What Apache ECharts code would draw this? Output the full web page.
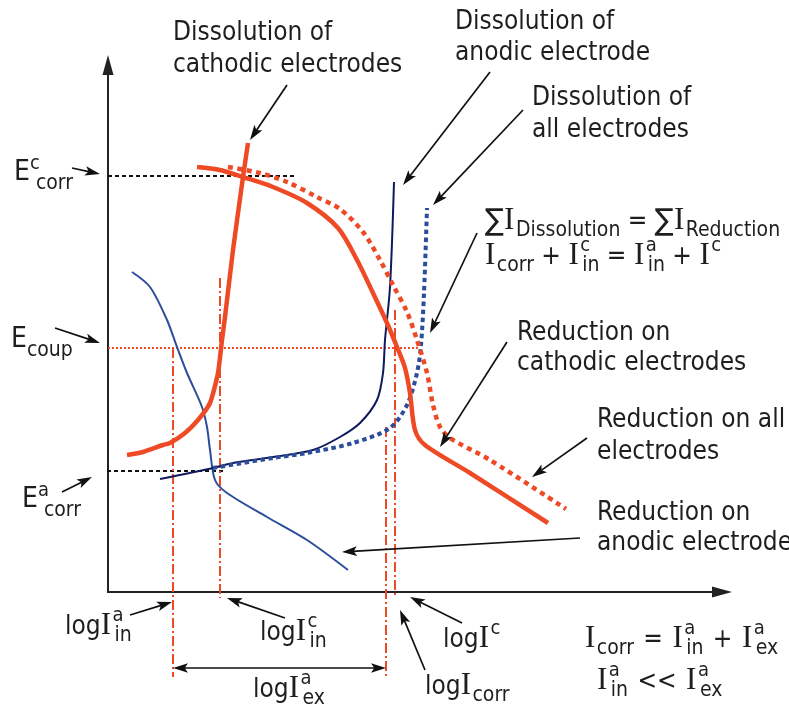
<!DOCTYPE html>
<html><head><meta charset="utf-8">
<script src="https://cdn.jsdelivr.net/npm/echarts@6/dist/echarts.min.js"></script>
<style>html,body{margin:0;padding:0;background:#fff}#c{width:789px;height:707px}</style>
</head><body><div id="c"></div>
<script>
// ---------------- data (x = log I units, y = potential E units) ----------------
const cathodicDissolution = [[0.38,2.74],[0.70,2.80],[1.10,2.94],[1.24,2.98],[1.54,3.18],[1.80,3.44],[2.04,3.78],[2.20,4.38],[2.28,5.04],[2.34,5.50],[2.50,6.84],[2.70,8.30],[2.80,8.98]];
const cathodicReduction = [[1.78,8.50],[2.24,8.44],[2.70,8.30],[3.30,8.10],[3.98,7.78],[4.60,7.28],[4.98,6.64],[5.30,5.98],[5.58,5.38],[5.78,4.90],[5.94,4.48],[6.04,3.98],[6.14,3.24],[6.34,2.94],[7.24,2.38],[8.80,1.38]];
const allReduction = [[2.40,8.50],[3.04,8.38],[3.58,8.20],[4.18,7.90],[4.64,7.66],[5.10,7.20],[5.44,6.64],[5.70,6.14],[5.98,5.60],[6.18,5.04],[6.38,4.38],[6.50,3.74],[6.64,3.30],[6.84,3.08],[7.64,2.64],[9.16,1.66]];
const anodicDissolution = [[1.04,2.26],[2.10,2.48],[2.50,2.58],[3.30,2.70],[4.10,2.84],[4.64,3.10],[5.04,3.38],[5.38,3.84],[5.50,4.38],[5.54,5.04],[5.64,6.10],[5.72,8.20]];
const allDissolution = [[2.10,2.48],[3.30,2.68],[3.98,2.78],[4.90,2.98],[5.64,3.28],[5.98,3.74],[6.18,4.38],[6.26,4.94],[6.32,5.98],[6.38,7.68]];
const anodicReduction = [[0.48,6.40],[0.84,6.10],[1.18,5.44],[1.38,4.90],[1.58,4.38],[1.88,3.70],[1.98,3.30],[2.04,2.84],[2.14,2.24],[2.38,1.98],[3.18,1.50],[3.98,1.04],[4.80,0.44]];

// potential levels (horizontal guide lines)
const potentialNames = ['Ec_corr','E_coup','Ea_corr'];
const potentialValues = [8.32, 4.88, 2.42];
const potentialFrom = [0, 0, -0.16];
const potentialTo = [3.74, 6.24, 2.30];

// current levels (vertical dash-dot guide lines)
const currentNames = ['logIa_in','logIc_in','logI_corr','logI_c'];
const currentValues = [1.30, 2.24, 5.56, 5.74];
const currentTop = [4.88, 6.28, 3.30, 5.64];
const currentBottom = [-1.70, -0.12, -1.70, -0.06];
const exchangeSpanY = -1.52; // logIa_ex double arrow level

// ---------------- styles ----------------
const RED = '#ee4a26', NAVY = '#0f1a5c', BLUE = '#2c4d9c', INK = '#1e1e1e';
const mctx = document.createElement('canvas').getContext('2d');
function hasFont(name) {
  const s = 'Dissolution of Wmi 123';
  mctx.font = '40px monospace'; const a = mctx.measureText(s).width;
  mctx.font = '40px "' + name + '", monospace'; const b = mctx.measureText(s).width;
  return Math.abs(a - b) > 0.5;
}
const SANS = (hasFont('DejaVu Sans Condensed') ? '"DejaVu Sans Condensed", ' : '') + '"DejaVu Sans", Verdana, sans-serif';
const SERIF = '"Liberation Serif", "Times New Roman", serif';
mctx.font = '100px ' + SANS;
const MAIN = Math.round(159 / (mctx.measureText('Dissolution of').width / 100) * 10) / 10;

const chart = echarts.init(document.getElementById('c'), null, {renderer: 'canvas'});

const series = [];
potentialNames.forEach((n, i) => {
  series.push({
    name: n, type: 'line', clip: false, showSymbol: false, silent: true, z: 1,
    data: [[potentialFrom[i], potentialValues[i]], [potentialTo[i], potentialValues[i]]],
    lineStyle: n === 'E_coup' ? {color: RED, width: 2, type: [2, 2]} : {color: '#111', width: 2.2, type: [4, 3]}
  });
});
currentNames.forEach((n, i) => {
  series.push({
    name: n, type: 'line', clip: false, showSymbol: false, silent: true, z: 1,
    data: [[currentValues[i], currentTop[i]], [currentValues[i], currentBottom[i]]],
    lineStyle: {color: RED, width: 2, type: [10, 3, 2, 3]}
  });
});
function curve(name, data, style, smooth) {
  series.push({name, type: 'line', clip: false, showSymbol: false, silent: true, z: 3,
    smooth: smooth, data, lineStyle: style});
}
curve('Reduction on anodic electrode', anodicReduction, {color: BLUE, width: 2}, 0.3);
curve('Dissolution of anodic electrode', anodicDissolution, {color: NAVY, width: 2}, 0.3);
curve('Dissolution of all electrodes', allDissolution, {color: BLUE, width: 4, type: [4.5, 3.5]}, 0.3);
curve('Reduction on all electrodes', allReduction, {color: RED, width: 4.5, type: [5, 4.5]}, 0.3);
curve('Reduction on cathodic electrodes', cathodicReduction, {color: RED, width: 4.5}, 0.3);
curve('Dissolution of cathodic electrodes', cathodicDissolution, {color: RED, width: 4.5}, 0.2);

const axisLine = {show: true, onZero: false, symbol: ['none', 'triangle'], symbolSize: [11, 20],
  lineStyle: {color: '#222', width: 2}};
chart.setOption({
  animation: false,
  backgroundColor: '#fff',
  grid: {left: 108, top: 65, right: 67, bottom: 115, containLabel: false},
  xAxis: {type: 'value', min: 0, max: 12.28, axisLine, axisTick: {show: false}, axisLabel: {show: false}, splitLine: {show: false}},
  yAxis: {type: 'value', min: 0, max: 10.54, axisLine, axisTick: {show: false}, axisLabel: {show: false}, splitLine: {show: false}},
  series
});

// ---------------- text & annotation helpers ----------------
const KIND = {
  n: {size: MAIN, fam: SANS, dy: 0, gap: 0, sx: 1},
  o: {size: MAIN, fam: SANS, dy: 0, gap: 2, sx: 1},
  E: {size: MAIN + 2, fam: SANS, dy: -2, gap: 0, sx: 1},
  S: {size: MAIN + 4, fam: SANS, dy: 0, gap: 0, sx: 1.05},
  I: {size: 31, fam: SERIF, dy: -1, gap: 1.5, sx: 1},
  p: {size: Math.round(MAIN * 0.78), fam: SANS, dy: -11, gap: 0, sx: 1},
  b: {size: Math.round(MAIN * 0.82), fam: SANS, dy: 9, gap: 0, sx: 1}
};
function fontStr(k) { return KIND[k].size + 'px ' + KIND[k].fam; }
function measure(t, k) { mctx.font = fontStr(k); return mctx.measureText(t).width * KIND[k].sx; }
function label(x, y, parts, subShift) {
  const sh = subShift == null ? 2 : subShift;
  const els = []; let cur = x, supStart = 0, supEnd = 0, prev = null;
  parts.forEach(([t, k]) => {
    const g = KIND[k].gap;
    let px = cur + (k === 'o' ? g : 0); const w = measure(t, k) + g * (k === 'o' ? 2 : 1);
    if (k === 'b' && prev === 'p') { px = supStart + sh; cur = Math.max(supEnd, supStart + sh + w); }
    else { if (k === 'p') { supStart = cur; supEnd = cur + w; } cur += w; }
    els.push({type: 'text', silent: true, z: 10, x: px, y: y + KIND[k].dy, scaleX: KIND[k].sx,
      style: {text: t, x: 0, y: 0, font: fontStr(k), fill: INK,
      textAlign: 'left', align: 'left', textVerticalAlign: 'middle', verticalAlign: 'middle'}});
    prev = k;
  });
  return els;
}
function head(x2, y2, ux, uy, L, W) {
  const bx = x2 - ux * L, by = y2 - uy * L, px = -uy, py = ux;
  return {type: 'polygon', silent: true, z: 10, shape: {points: [[x2, y2], [bx + px * W, by + py * W], [x2 - ux * L * 0.78, y2 - uy * L * 0.78], [bx - px * W, by - py * W]]},
    style: {fill: '#111'}};
}
function arrow(x1, y1, x2, y2, both) {
  const L = 15, W = 4.8;
  const dx = x2 - x1, dy = y2 - y1, len = Math.hypot(dx, dy), ux = dx / len, uy = dy / len;
  const els = [{type: 'line', silent: true, z: 10, shape: {x1: both ? x1 + ux * L * 0.7 : x1, y1: both ? y1 + uy * L * 0.7 : y1, x2: x2 - ux * L * 0.7, y2: y2 - uy * L * 0.7},
    style: {stroke: '#111', lineWidth: 1.7}}];
  els.push(head(x2, y2, ux, uy, L, W));
  if (both) els.push(head(x1, y1, -ux, -uy, L, W));
  return els;
}

// annotation arrows [fromX, fromY, tipX, tipY] (layout, in pixels)
const annotationArrows = [
  [287, 85, 250, 140], [490, 72, 403, 185], [523, 110, 433, 205], [477, 233, 430, 333],
  [507, 342, 440, 447], [587, 438, 532, 477], [580, 538, 342, 552],
  [72, 168, 100, 174], [55, 328, 100, 343], [62, 492, 92, 477],
  [130, 615, 172, 602], [285, 618, 227, 598], [462, 623, 410, 597], [425, 670, 400, 610]
];

const texts = [
  [173, 33, [['Dissolution of', 'n']]], [173, 65, [['cathodic electrodes', 'n']]],
  [455, 22, [['Dissolution of', 'n']]], [455, 53, [['anodic electrode', 'n']]],
  [532, 98, [['Dissolution of', 'n']]], [532, 130, [['all electrodes', 'n']]],
  [485, 222, [['\u2211', 'S'], ['I', 'I'], ['Dissolution', 'b'], [' = ', 'n'], ['\u2211', 'S'], ['I', 'I'], ['Reduction', 'b']]],
  [485, 257, [['I', 'I'], ['corr', 'b'], [' + ', 'n'], ['I', 'I'], ['c', 'p'], ['in', 'b'], [' = ', 'n'], ['I', 'I'], ['a', 'p'], ['in', 'b'], [' + ', 'n'], ['I', 'I'], ['c', 'p']]],
  [517, 333, [['Reduction on', 'n']]], [517, 363, [['cathodic electrodes', 'n']]],
  [597, 420, [['Reduction on all', 'n']]], [597, 452, [['electrodes', 'n']]],
  [597, 513, [['Reduction on', 'n']]], [597, 543, [['anodic electrode', 'n']]],
  [585, 640, [['I', 'I'], ['corr', 'b'], [' = ', 'o'], ['I', 'I'], ['a', 'p'], ['in', 'b'], [' + ', 'o'], ['I', 'I'], ['a', 'p'], ['ex', 'b']]],
  [597, 682, [['I', 'I'], ['a', 'p'], ['in', 'b'], [' << ', 'o'], ['I', 'I'], ['a', 'p'], ['ex', 'b']]],
  [14, 175, [['E', 'E'], ['c', 'p'], ['corr', 'b']], 6],
  [11, 342, [['E', 'E'], ['coup', 'b']]],
  [22, 502, [['E', 'E'], ['a', 'p'], ['corr', 'b']], 6],
  [65, 627, [['log', 'n'], ['I', 'I'], ['a', 'p'], ['in', 'b']]],
  [260, 633, [['log', 'n'], ['I', 'I'], ['c', 'p'], ['in', 'b']]],
  [253, 690, [['log', 'n'], ['I', 'I'], ['a', 'p'], ['ex', 'b']]],
  [443, 640, [['log', 'n'], ['I', 'I'], ['c', 'p']]],
  [425, 687, [['log', 'n'], ['I', 'I'], ['corr', 'b']]]
];

let elements = [];
texts.forEach(([x, y, parts, sh]) => { elements = elements.concat(label(x, y, parts, sh)); });
annotationArrows.forEach(a => { elements = elements.concat(arrow(a[0], a[1], a[2], a[3], false)); });
// logIa_ex double arrow between logIa_in and logI_corr guide lines
const pA = chart.convertToPixel({gridIndex: 0}, [currentValues[0], exchangeSpanY]);
const pB = chart.convertToPixel({gridIndex: 0}, [currentValues[2], exchangeSpanY]);
elements = elements.concat(arrow(pA[0], pA[1], pB[0], pB[1], true));

chart.setOption({graphic: {elements}});
</script></body></html>
